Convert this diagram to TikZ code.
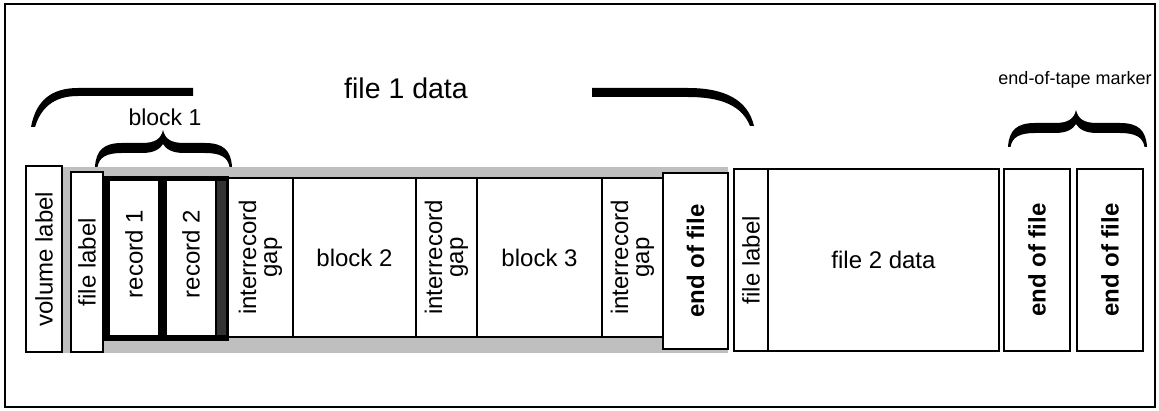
\documentclass[tikz,border=0pt]{standalone}
\usepackage{fontspec}
\setmainfont{Liberation Sans}
\newcommand\curlybrace[4]{% xl, xr, xtip, ytip
 \fill (#1,#4+37) .. controls (#1+1,#4+20) and (#1+9,#4+13) .. (#1+27,#4+13) -- (#3-21,#4+13) .. controls (#3-8,#4+13) and (#3-2,#4+9) .. (#3,#4) .. controls (#3+2,#4+9) and (#3+8,#4+13) .. (#3+21,#4+13) -- (#2-27,#4+13) .. controls (#2-9,#4+13) and (#2-1,#4+20) .. (#2,#4+37) -- (#2-2.5,#4+37) .. controls (#2-4,#4+27) and (#2-12,#4+23) .. (#2-27,#4+23) -- (#3+21,#4+23) .. controls (#3+9,#4+23) and (#3+3,#4+19) .. (#3,#4+14) .. controls (#3-3,#4+19) and (#3-9,#4+23) .. (#3-21,#4+23) -- (#1+27,#4+23) .. controls (#1+12,#4+23) and (#1+4,#4+27) .. (#1+2.5,#4+37) -- cycle;}
\begin{document}
\begin{tikzpicture}[x=1pt,y=-1pt,
  box/.style={draw=black, line width=1.7pt, fill=white, inner sep=0pt, anchor=center},
  lbl/.style={font=\fontsize{24}{21}\selectfont, align=center, inner sep=0pt, rotate=90},
  blbl/.style={lbl, font=\fontsize{24}{21}\selectfont\bfseries},
  tapeband/.style={fill=black!25, draw=none}]
\useasboundingbox (0,0) rectangle (1159,411);
\draw[line width=1.2pt] (5,4) rectangle (1155,407);
% tape band
\fill[tapeband] (63,167) rectangle (728,353);
% file 1
\node[box, minimum width=36pt, minimum height=186pt] (vol) at (44,259) {};
\node[lbl] (tvol) at (vol.center) {volume label};
\node[box, minimum width=32pt, minimum height=180pt] (fl1) at (87,262) {};
\node[lbl] (tfl1) at (fl1.center) {file label};
\node[box, fill=black, minimum width=123pt, minimum height=163pt] (recs) at (166.5,258.5) {};
\node[box, draw=none, fill=black!80, minimum width=9pt, minimum height=154pt] (dark) at (221.5,258) {};
\node[box, draw=none, minimum width=48pt, minimum height=154pt] (rec1) at (134,258) {};
\node[lbl] (trec1) at ([yshift=4pt]rec1.center) {record 1};
\node[box, draw=none, minimum width=48pt, minimum height=154pt] (rec2) at (191,258) {};
\node[lbl] (trec2) at ([yshift=4pt]rec2.center) {record 2};
\node[box, minimum width=65pt, minimum height=159pt] (gap1) at (260.5,257.5) {};
\node[lbl] (tgap1) at (gap1.center) {interrecord\\gap};
\node[box, minimum width=123pt, minimum height=159pt] (blk2) at (354.5,257.5) {};
\node[font=\fontsize{24}{26}\selectfont, inner sep=0pt] (tblk2) at (blk2.center) {block 2};
\node[box, minimum width=61pt, minimum height=159pt] (gap2) at (446.5,257.5) {};
\node[lbl] (tgap2) at (gap2.center) {interrecord\\gap};
\node[box, minimum width=125pt, minimum height=159pt] (blk3) at (539.5,257.5) {};
\node[font=\fontsize{24}{26}\selectfont, inner sep=0pt] (tblk3) at (blk3.center) {block 3};
\node[box, minimum width=61pt, minimum height=159pt] (gap3) at (632.5,257.5) {};
\node[lbl] (tgap3) at (gap3.center) {interrecord\\gap};
\node[box, minimum width=65pt, minimum height=176pt] (eof1) at (695.5,261) {};
\node[blbl] (teof1) at (eof1.center) {end of file};
% file 2
\node[box, minimum width=34pt, minimum height=182pt] (fl2) at (751,260) {};
\node[lbl] (tfl2) at (fl2.center) {file label};
\node[box, minimum width=231pt, minimum height=182pt] (f2d) at (883.5,260) {};
\node[font=\fontsize{24}{26}\selectfont, inner sep=0pt] (tf2d) at (f2d.center) {file 2 data};
\node[box, minimum width=66pt, minimum height=182pt] (eofA) at (1037,260) {};
\node[blbl] (teofA) at (eofA.center) {end of file};
\node[box, minimum width=66pt, minimum height=182pt] (eofB) at (1110,260) {};
\node[blbl] (teofB) at (eofB.center) {end of file};
% braces
\fill (31,127) .. controls (36,100) and (52,88) .. (78,88) -- (193,88) -- (193,96) -- (78,96) .. controls (58,96) and (42,104) .. (35,127) -- cycle;
\fill (592,88) -- (688,88) .. controls (725,88) and (748,100) .. (754,126) -- (750,126) .. controls (742,106) and (722,97) .. (688,97) -- (592,97) -- cycle;
\curlybrace{95}{232}{163}{130}
\curlybrace{1008}{1147}{1076}{110}
% labels
\node[font=\fontsize{28.5}{30}\selectfont, inner sep=0pt] (tfile1) at (406,88) {file 1 data};
\node[font=\fontsize{23}{25}\selectfont, inner sep=0pt] (tblock1) at (165,117) {block 1};
\node[font=\fontsize{18}{21}\selectfont, inner sep=0pt] (teot) at (1075,80) {end-of-tape marker};
\end{tikzpicture}
\end{document}
